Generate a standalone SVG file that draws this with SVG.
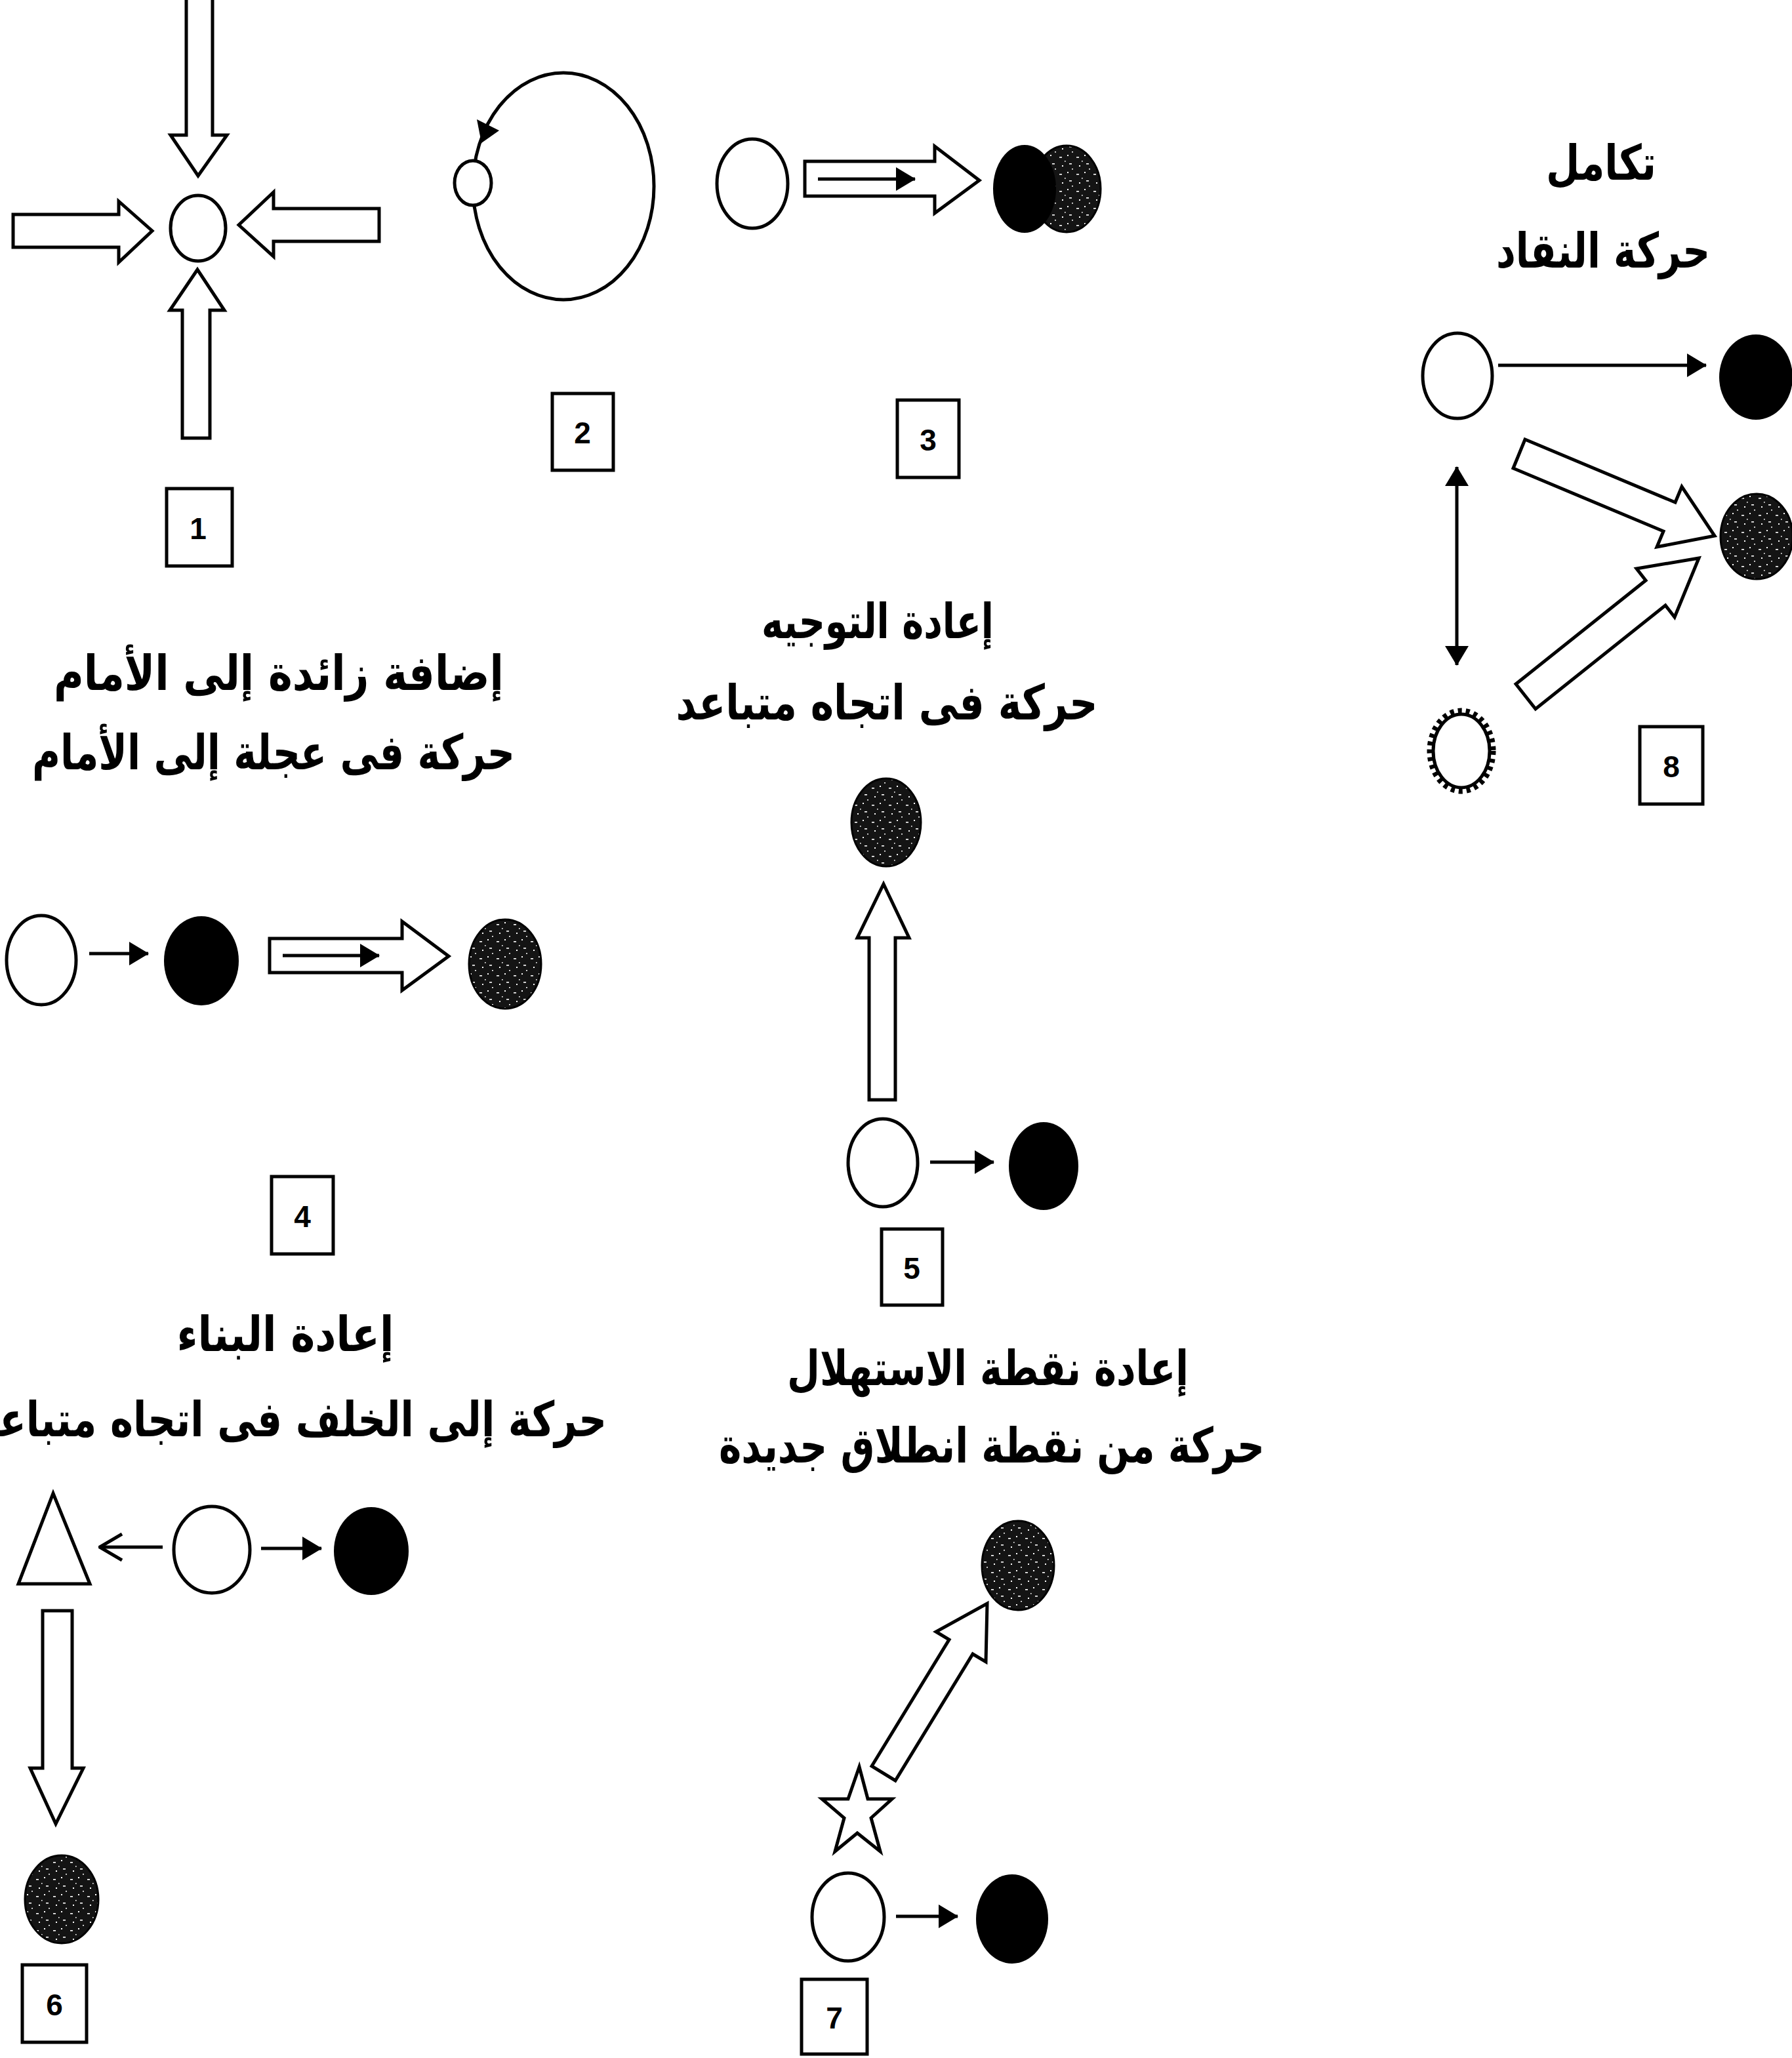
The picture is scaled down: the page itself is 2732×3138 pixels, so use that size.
<svg xmlns="http://www.w3.org/2000/svg" width="2732" height="3138" viewBox="0 0 2732 3138">
<defs>
<pattern id="stip" width="26" height="26" patternUnits="userSpaceOnUse">
<rect width="26" height="26" fill="#141414"/>
<rect x="3" y="5" width="4" height="1.6" fill="#fff"/>
<rect x="15" y="2" width="2" height="2" fill="#fff"/>
<rect x="18" y="15" width="4" height="1.6" fill="#fff"/>
<rect x="7" y="18" width="2" height="2" fill="#fff"/>
<rect x="11" y="11" width="1.6" height="1.6" fill="#fff"/>
<rect x="22" y="23" width="2" height="1.5" fill="#fff"/>
</pattern>
<marker id="ah" viewBox="0 0 30 36" refX="29" refY="18" markerWidth="30" markerHeight="36" markerUnits="userSpaceOnUse" orient="auto-start-reverse">
<path d="M0,0 L30,18 L0,36 Z" fill="#000"/>
</marker>
<marker id="oh" viewBox="0 0 40 44" refX="38" refY="22" markerWidth="40" markerHeight="44" markerUnits="userSpaceOnUse" orient="auto">
<path d="M4,2 L38,22 L4,42" fill="none" stroke="#000" stroke-width="5"/>
</marker>
</defs>
<style>
.o{fill:#fff;stroke:#000;stroke-width:5}
.k{fill:#000}
.s{fill:url(#stip);stroke:#000;stroke-width:3}
.ba{fill:#fff;stroke:#000;stroke-width:5;stroke-linejoin:miter}
.ln{fill:none;stroke:#000;stroke-width:5}
.box{fill:#fff;stroke:#000;stroke-width:5}
.num{font-family:"Liberation Sans",sans-serif;font-weight:bold;font-size:46px;text-anchor:middle}
.ar{font-family:"DejaVu Sans",sans-serif;font-weight:bold;font-size:74px;text-anchor:middle}
</style>
<rect width="2732" height="3138" fill="#fff"/>

<g id="panel1">
<polygon class="ba" points="284,-10 324,-10 324,206 346,206 302,268 260,206 284,206"/>
<polygon class="ba" points="20,327 181,327 181,307 232,352 181,400 181,377 20,377"/>
<polygon class="ba" points="578,318 417,318 417,293 364,343 417,391 417,368 578,368"/>
<polygon class="ba" points="278,668 278,473 259,473 301,411 342,473 320,473 320,668"/>
<ellipse class="o" cx="302" cy="348" rx="42" ry="50"/>
</g>
<g id="label1"><rect class="box" x="254" y="745" width="100" height="118"/><text class="num" x="302" y="822">1</text></g>

<g id="panel2">
<ellipse class="ln" cx="859" cy="284" rx="138" ry="173"/>
<polygon class="k" points="727,182 761,199 734,218"/>
<ellipse class="o" cx="721" cy="279" rx="28" ry="34"/>
</g>
<g id="label2"><rect class="box" x="842" y="600" width="93" height="117"/><text class="num" x="888" y="676">2</text></g>

<g id="panel3">
<ellipse class="o" cx="1147" cy="280" rx="54" ry="68"/>
<polygon class="ba" points="1227,246 1425,246 1425,223 1493,275 1425,325 1425,299 1227,299"/>
<line class="ln" x1="1247" y1="273" x2="1395" y2="273" marker-end="url(#ah)"/>
<ellipse class="s" cx="1626" cy="288" rx="52" ry="66"/>
<ellipse class="k" cx="1562" cy="288" rx="48" ry="67"/>
</g>
<g id="label3"><rect class="box" x="1368" y="610" width="94" height="118"/><text class="num" x="1415" y="687">3</text></g>

<g id="panel8">
<text class="ar" x="2441" y="274" textLength="168" lengthAdjust="spacingAndGlyphs">تكامل</text>
<text class="ar" x="2444" y="408" textLength="326" lengthAdjust="spacingAndGlyphs">حركة النقاد</text>
<ellipse class="o" cx="2222" cy="573" rx="53" ry="65"/>
<ellipse class="k" cx="2677" cy="575" rx="56" ry="65"/>
<ellipse class="s" cx="2678" cy="818" rx="55" ry="65"/>
<ellipse fill="none" stroke="#000" stroke-width="9" stroke-dasharray="6 6" cx="2228" cy="1145" rx="48" ry="61"/>
<ellipse class="o" cx="2228" cy="1145" rx="43" ry="56"/>
</g>
<g id="label8"><rect class="box" x="2500" y="1108" width="96" height="118"/><text class="num" x="2548" y="1185">8</text></g>

<g id="panel4">
<ellipse class="o" cx="63" cy="1464" rx="53" ry="68"/>
<ellipse class="k" cx="307" cy="1465" rx="57" ry="68"/>
<polygon class="ba" points="411,1431 613,1431 613,1405 684,1458 613,1510 613,1483 411,1483"/>
<ellipse class="s" cx="770" cy="1470" rx="55" ry="68"/>
</g>
<g id="label4"><rect class="box" x="414" y="1794" width="94" height="118"/><text class="num" x="461" y="1871">4</text></g>

<g id="panel5">
<ellipse class="s" cx="1351" cy="1254" rx="53" ry="67"/>
<polygon class="ba" points="1325,1677 1325,1430 1307,1430 1347,1348 1386,1430 1365,1430 1365,1677"/>
<ellipse class="o" cx="1346" cy="1773" rx="53" ry="67"/>
<ellipse class="k" cx="1591" cy="1778" rx="53" ry="67"/>
</g>
<g id="label5"><rect class="box" x="1344" y="1874" width="93" height="116"/><text class="num" x="1390" y="1950">5</text></g>

<g id="panel6">
<polygon class="ba" points="81,2277 137,2415 28,2415"/>
<ellipse class="o" cx="323" cy="2363" rx="58" ry="66"/>
<ellipse class="k" cx="566" cy="2365" rx="57" ry="67"/>
<polygon class="ba" points="65,2456 110,2456 110,2696 127,2696 85,2781 46,2696 65,2696"/>
<ellipse class="s" cx="94" cy="2896" rx="56" ry="67"/>
</g>
<g id="label6"><rect class="box" x="34" y="2996" width="98" height="118"/><text class="num" x="83" y="3073">6</text></g>

<g id="panel7">
<ellipse class="s" cx="1552" cy="2387" rx="55" ry="68"/>
<polygon class="ba" points="1329,2693 1447,2500 1427,2488 1505,2445 1503,2534 1483,2522 1365,2715"/>
<polygon class="ba" points="1310,2694 1323,2743 1360,2743 1328,2772 1342,2823 1307,2795 1273,2823 1287,2772 1253,2743 1293,2743"/>
<ellipse class="o" cx="1293" cy="2923" rx="55" ry="67"/>
<ellipse class="k" cx="1543" cy="2926" rx="55" ry="68"/>
</g>
<g id="label7"><rect class="box" x="1222" y="3018" width="100" height="114"/><text class="num" x="1272" y="3093">7</text></g>

<g id="connectors">
<line class="ln" x1="2284" y1="557" x2="2601" y2="557" marker-end="url(#ah)"/>
<polygon class="ba" points="2325,670 2554,766 2564,742 2614,817 2526,834 2536,810 2307,714"/>
<polygon class="ba" points="2311,1043 2509,885 2495,867 2590,851 2553,941 2539,923 2341,1081"/>
<line class="ln" x1="2221" y1="712" x2="2221" y2="1014" marker-start="url(#ah)" marker-end="url(#ah)"/>
<line class="ln" x1="136" y1="1454" x2="226" y2="1454" marker-end="url(#ah)"/>
<line class="ln" x1="431" y1="1457" x2="578" y2="1457" marker-end="url(#ah)"/>
<line class="ln" x1="1418" y1="1772" x2="1515" y2="1772" marker-end="url(#ah)"/>
<line class="ln" x1="248" y1="2359" x2="152" y2="2359" marker-end="url(#oh)"/>
<line class="ln" x1="398" y1="2361" x2="490" y2="2361" marker-end="url(#ah)"/>
<line class="ln" x1="1366" y1="2922" x2="1460" y2="2922" marker-end="url(#ah)"/>
</g>

<g id="captions">
<text class="ar" x="1338" y="973" textLength="354" lengthAdjust="spacingAndGlyphs">إعادة التوجيه</text>
<text class="ar" x="1352" y="1097" textLength="643" lengthAdjust="spacingAndGlyphs">حركة فى اتجاه متباعد</text>
<text class="ar" x="425" y="1052" textLength="686" lengthAdjust="spacingAndGlyphs">إضافة زائدة إلى الأمام</text>
<text class="ar" x="417" y="1173" textLength="736" lengthAdjust="spacingAndGlyphs">حركة فى عجلة إلى الأمام</text>
<text class="ar" x="435" y="2060" textLength="331" lengthAdjust="spacingAndGlyphs">إعادة البناء</text>
<text class="ar" x="445" y="2190" textLength="960" lengthAdjust="spacingAndGlyphs">حركة إلى الخلف فى اتجاه متباعد</text>
<text class="ar" x="1506" y="2112" textLength="612" lengthAdjust="spacingAndGlyphs">إعادة نقطة الاستهلال</text>
<text class="ar" x="1512" y="2230" textLength="832" lengthAdjust="spacingAndGlyphs">حركة من نقطة انطلاق جديدة</text>
</g>
</svg>
